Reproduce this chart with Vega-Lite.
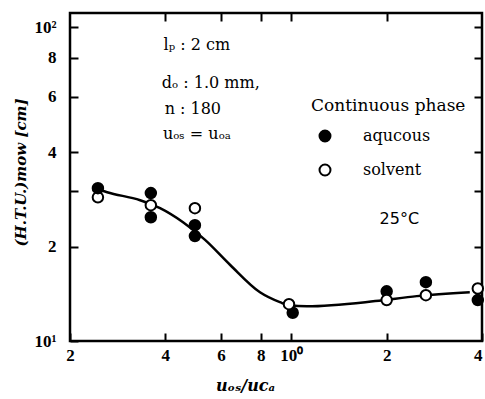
{
  "$schema": "https://vega.github.io/schema/vega-lite/v6.json",
  "width": 412,
  "height": 328,
  "autosize": {"type": "none"},
  "padding": {"left": 70, "top": 13, "right": 3, "bottom": 58},
  "background": "white",
  "config": {
    "view": {"stroke": "black", "strokeWidth": 2.5},
    "axis": {
      "domain": false,
      "grid": false,
      "zindex": 1,
      "tickColor": "black",
      "tickWidth": 2,
      "tickSize": -8,
      "labelFont": "Liberation Serif",
      "labelFontSize": 17,
      "labelFontWeight": "bold",
      "labelColor": "black",
      "titleColor": "black"
    }
  },
  "datasets": {
    "curve": [
      {"x": 0.249, "y": 30.3},
      {"x": 0.262, "y": 29.8},
      {"x": 0.333, "y": 28.1},
      {"x": 0.385, "y": 26.5},
      {"x": 0.455, "y": 23.9},
      {"x": 0.534, "y": 21.0},
      {"x": 0.64, "y": 17.5},
      {"x": 0.796, "y": 14.3},
      {"x": 0.92, "y": 13.3},
      {"x": 0.983, "y": 13.0},
      {"x": 1.12, "y": 12.9},
      {"x": 1.84, "y": 13.4},
      {"x": 2.49, "y": 13.9},
      {"x": 3.66, "y": 14.3}
    ],
    "points": [
      {"x": 0.245, "y": 28.7, "phase": "solvent"},
      {"x": 0.245, "y": 30.7, "phase": "aqucous"},
      {"x": 0.36, "y": 29.6, "phase": "aqucous"},
      {"x": 0.36, "y": 24.8, "phase": "aqucous"},
      {"x": 0.36, "y": 27.1, "phase": "solvent"},
      {"x": 0.496, "y": 26.5, "phase": "solvent"},
      {"x": 0.496, "y": 23.4, "phase": "aqucous"},
      {"x": 0.496, "y": 21.6, "phase": "aqucous"},
      {"x": 1.01, "y": 12.3, "phase": "aqucous"},
      {"x": 0.983, "y": 13.1, "phase": "solvent"},
      {"x": 2.0, "y": 14.4, "phase": "aqucous"},
      {"x": 2.0, "y": 13.5, "phase": "solvent"},
      {"x": 2.66, "y": 15.4, "phase": "aqucous"},
      {"x": 2.66, "y": 14.0, "phase": "solvent"},
      {"x": 3.88, "y": 13.5, "phase": "aqucous"},
      {"x": 3.88, "y": 14.7, "phase": "solvent"}
    ],
    "notes": [
      {"x": 0.395, "y": 88.0, "label": "lₚ : 2 cm"},
      {"x": 0.39, "y": 66.5, "label": "dₒ : 1.0 mm,"},
      {"x": 0.398, "y": 54.8, "label": "n : 180"},
      {"x": 0.393, "y": 45.7, "label": "uₒₛ = uₒₐ"}
    ],
    "temp": [
      {"x": 1.9, "y": 24.5, "label": "25°C"}
    ]
  },
  "layer": [
    {
      "data": {"name": "curve"},
      "mark": {"type": "line", "color": "black", "strokeWidth": 2.5, "interpolate": "monotone"},
      "encoding": {
        "x": {
          "field": "x", "type": "quantitative",
          "scale": {"type": "log", "domain": [0.2, 4], "nice": false},
          "axis": {
            "orient": "bottom",
            "values": [0.2, 0.4, 0.6, 0.8, 1, 2, 4],
            "labelExpr": "datum.value == 1 ? '10⁰' : (datum.value < 1 ? format(datum.value * 10, 'd') : format(datum.value, 'd'))",
            "labelPadding": 14,
            "labelFlush": false,
            "labelAlign": {"condition": {"test": "datum.value == 4", "value": "right"}, "value": "center"},
            "encode": {"labels": {"update": {"dy": {"signal": "datum.value == 1 ? 9 : 0"}}}},
            "title": "uₒₛ/ucₐ",
            "titleFont": "DejaVu Serif",
            "titleFontSize": 16,
            "titleFontStyle": "italic",
            "titleFontWeight": "bold",
            "titleX": 175,
            "titleY": 44,
            "titleBaseline": "middle"
          }
        },
        "y": {
          "field": "y", "type": "quantitative",
          "scale": {"type": "log", "domain": [10, 111], "nice": false},
          "axis": {
            "orient": "left",
            "values": [10, 20, 30, 40, 60, 80, 100],
            "labelExpr": "datum.value == 10 ? '10¹' : (datum.value == 100 ? '10²' : (datum.value == 30 ? '' : format(datum.value / 10, 'd')))",
            "labelPadding": 22,
            "labelFlush": false,
            "title": "(H.T.U.)mow [cm]",
            "titleFont": "DejaVu Serif",
            "titleFontSize": 15,
            "titleFontStyle": "italic",
            "titleFontWeight": "bold",
            "titleX": -50,
            "titleY": 159,
            "titleAngle": 270,
            "titleAlign": "center",
            "titleBaseline": "middle"
          }
        }
      }
    },
    {
      "data": {"name": "points"},
      "mark": {"type": "point", "shape": "circle", "filled": true, "stroke": "black", "strokeWidth": 2, "size": 110, "opacity": 1},
      "encoding": {
        "x": {
          "field": "x", "type": "quantitative",
          "scale": {"type": "log", "domain": [0.2, 4], "nice": false},
          "axis": {"orient": "top", "values": [0.4, 0.6, 0.8, 1, 2], "labels": false, "title": null}
        },
        "y": {
          "field": "y", "type": "quantitative",
          "scale": {"type": "log", "domain": [10, 111], "nice": false},
          "axis": {"orient": "right", "values": [20, 30, 40, 60, 80, 100], "labels": false, "title": null}
        },
        "fill": {
          "field": "phase", "type": "nominal",
          "scale": {"domain": ["aqucous", "solvent"], "range": ["black", "white"]},
          "legend": {
            "title": "Continuous phase",
            "orient": "none",
            "legendX": 241,
            "legendY": 85,
            "titleFont": "DejaVu Serif",
            "titleFontSize": 17,
            "titleFontWeight": "normal",
            "titleColor": "black",
            "titlePadding": 13,
            "labelFont": "DejaVu Serif",
            "labelFontSize": 16,
            "labelColor": "black",
            "labelOffset": 30,
            "rowPadding": 14,
            "symbolType": "circle",
            "symbolSize": 120,
            "symbolStrokeColor": "black",
            "symbolStrokeWidth": 2,
            "symbolOffset": 6
          }
        }
      }
    },
    {
      "data": {"name": "notes"},
      "mark": {"type": "text", "align": "left", "baseline": "middle", "font": "DejaVu Serif", "fontSize": 16, "color": "black"},
      "encoding": {
        "x": {"field": "x", "type": "quantitative", "scale": {"type": "log", "domain": [0.2, 4], "nice": false}, "axis": null},
        "y": {"field": "y", "type": "quantitative", "scale": {"type": "log", "domain": [10, 111], "nice": false}, "axis": null},
        "text": {"field": "label"}
      }
    },
    {
      "data": {"name": "temp"},
      "mark": {"type": "text", "align": "left", "baseline": "middle", "font": "DejaVu Sans", "fontSize": 16, "color": "black"},
      "encoding": {
        "x": {"field": "x", "type": "quantitative", "scale": {"type": "log", "domain": [0.2, 4], "nice": false}, "axis": null},
        "y": {"field": "y", "type": "quantitative", "scale": {"type": "log", "domain": [10, 111], "nice": false}, "axis": null},
        "text": {"field": "label"}
      }
    }
  ],
  "resolve": {"scale": {"x": "independent", "y": "independent"}}
}
